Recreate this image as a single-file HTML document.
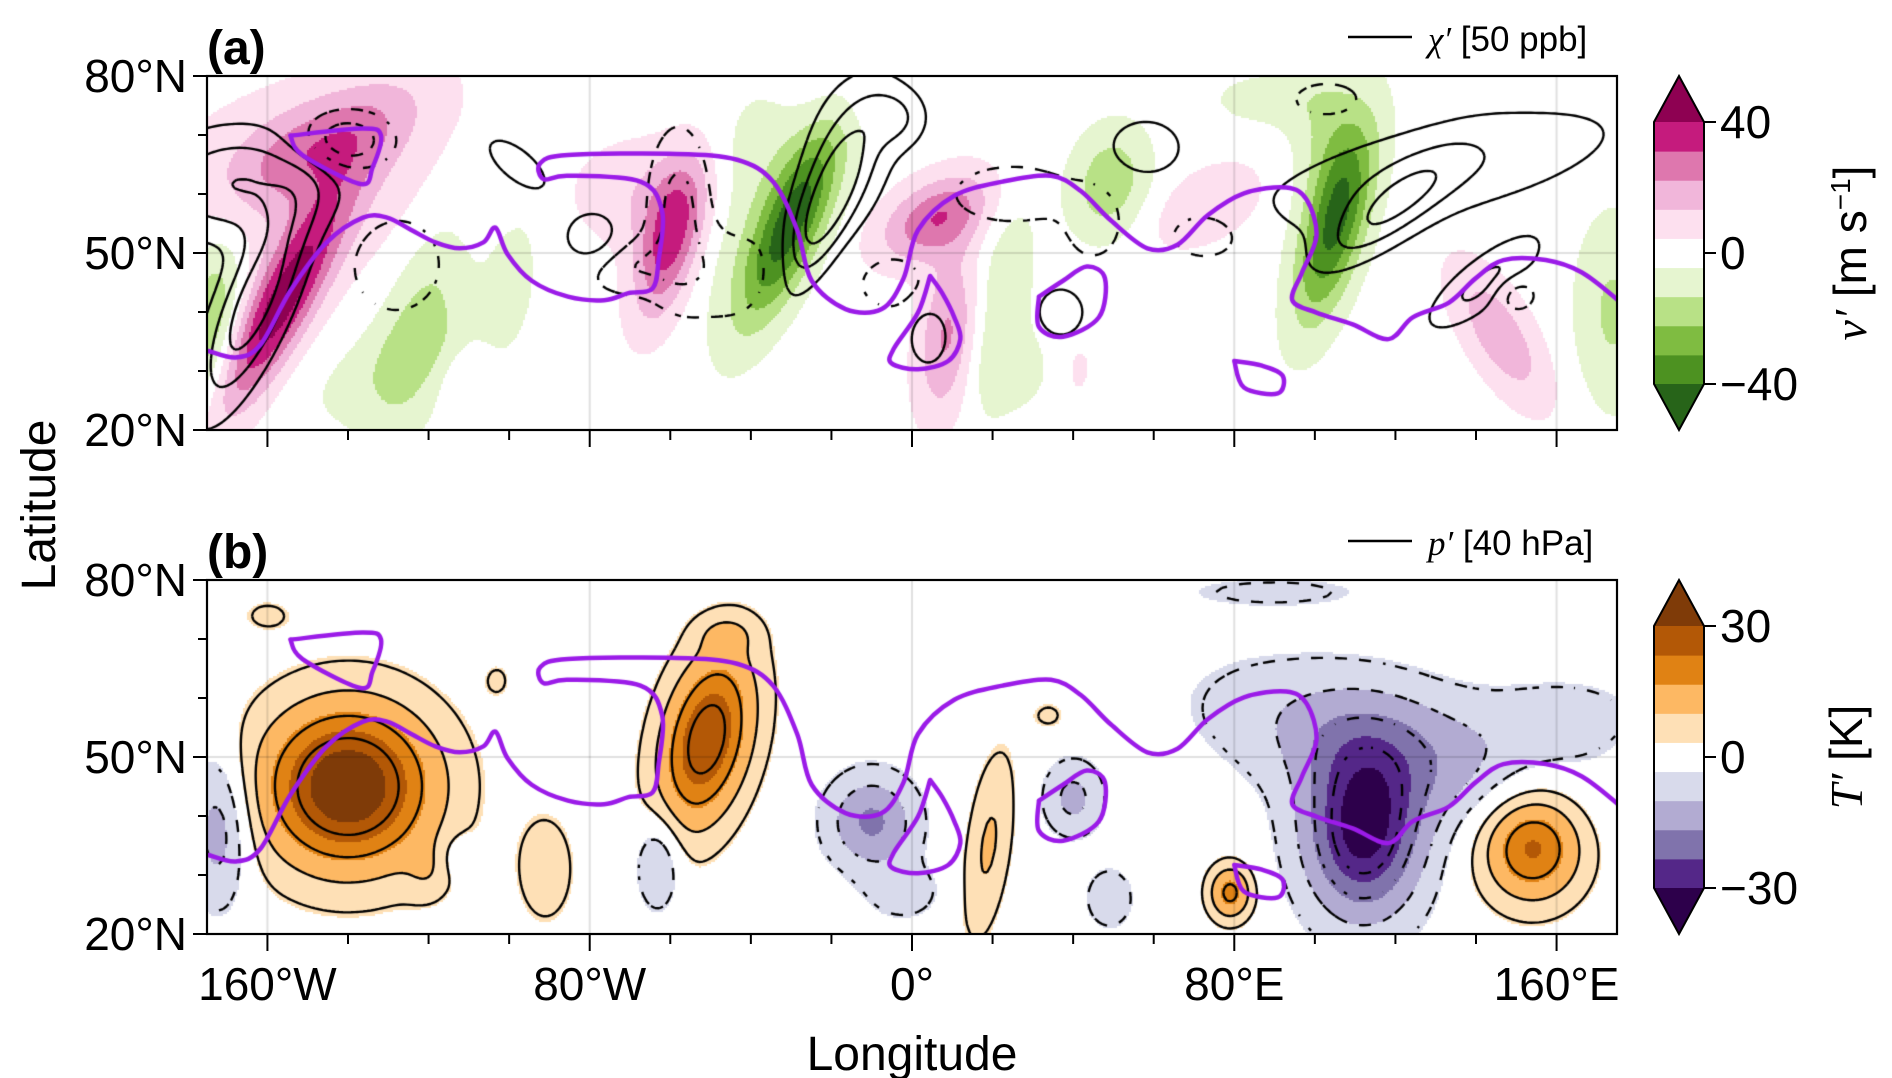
<!DOCTYPE html>
<html><head><meta charset="utf-8">
<style>
html,body{margin:0;padding:0;background:#fff;}
#wrap{position:relative;width:1892px;height:1078px;overflow:hidden;font-family:"Liberation Sans",sans-serif;}
canvas{position:absolute;}
svg{position:absolute;left:0;top:0;}
</style></head>
<body>
<div id="wrap">
<canvas id="cva" width="1410" height="354" style="left:207px;top:76px"></canvas>
<canvas id="cvb" width="1410" height="354" style="left:207px;top:580px"></canvas>
<svg id="ov" width="1892" height="1078"></svg>
</div>
<script>
// ---- data: v' blobs (panel a fill) ----
const vLon  = [-157,-145,-150,-174,-122,-130,-100,-60,-65,-30,-40,6,9,22,28,49,73,105,103,146,174,40,-16,88,-112];
const vLat  = [41,69,62,38,38,30,45,52,60,55,62,56,36,42,30,62,58,55,71,36,40,30,76,76,30];
const vAmp  = [45,22,10,-22,-16,-8,-8,36,12,-42,-10,30,24,-12,-8,-20,12,-42,-12,20,-15,7,6,-8,6];
const vSu   = [14,14,20,10,12,12,10,9,10,12,14,8,9,12,6,6,8,11,8,9,10,5,10,8,5];
const vSv   = [4,5,10,4,5,5,4,4,6,4,8,4,4,4,4,5,4,4,5,4,5,4,4,3,3];
const vTilt = [55,20,0,80,70,20,75,70,0,60,60,20,80,80,0,60,20,70,90,-50,90,80,0,0,30];
// ---- chi' blobs (panel a contours) ----
const cLon  = [-163,-170,-79,-22,-4,58,118,142,37,4,-98,-141,-128,-58,-72,25,45,73,103,150,130,-15,-165,-45,-5];
const cLat  = [42,60,52,57,73,68,57,45,40,36,65,69,48,58,48,60,55,53,76,43,64,68,64,46,45];
const cAmp  = [3.2,1.5,1.6,3,1.4,1.3,2,1.8,1.5,1.5,1.2,-2.5,-1.5,-1.8,-1.4,-1.5,-1.3,-1.3,-1.2,-1.2,1.4,1.2,1.2,-1.2,-0.9];
const cSu   = [12,5,4,10,4,5,10,8,3,2.5,2,6,6,8,6,8,4,6,5,3,25,8,10,10,6];
const cSv   = [4,12,3,3.5,3,3,3,2.5,2.5,3,5,3,5,4,3,3,4,3,2,2,5,6,5,5,4];
const cTilt = [60,90,0,60,0,0,30,30,0,0,60,0,0,90,0,0,0,0,0,0,10,70,0,0,0];
// ---- T' blobs (panel b fill + p' contours) ----
const tLon  = [-140,-51,-91,19,79,154,-160,-103,-46,34,-120,-172,-63,-112,-10,-2,40,49,112,118,90,163];
const tLat  = [45,53,31,35,27,35,74,63,71,57,30,38,32,33,39,27,43,26,37,52,78,57];
const tAmp  = [36,30,8,11,20,26,5,5,6,5,5,-15,-12,-7,-18,-7,-12,-10,-32,-15,-5,-6];
const tSu   = [12,10,4,10,3,7,4,2,4,3,3,4,3,2,6,5,4,3,8,22,15,10];
const tSv   = [9,6,6,3,3,6,2,2,2,2,3,8,5,2,5,3,4,3,9,7,2,4];
const tTilt = [0,70,0,80,0,0,0,0,0,0,0,0,0,0,0,0,0,0,0,-10,0,0];
// ---- tropopause line (purple), lon/lat ----
const lineLon = [-174.7,-167.8,-161.8,-154.3,-145.3,-136.3,-130.3,-124.3,-118.3,-112.3,-106.4,-103.4,-100.4,-94.4,-85.4,-76.4,-70.4,-64.4,-62.9,-62.0,-67.4,-85.4,-91.4,-92.3,-85.4,-58.4,-43.4,-34.5,-28.5,-24.9,-16.5,-7.5,-2.1,1.5,10.5,22.5,34.5,41.9,49.4,58.4,65.9,73.4,82.4,92.9,98.0,100.4,96.8,94.4,100.4,109.4,118.3,124.3,133.3,139.9,146.8,157.3,166.3,175.3];
const lineLat = [33.4,32.3,34.4,43.6,51.8,56.0,56.0,53.9,51.8,50.8,51.8,54.3,49.8,45.3,42.6,42.0,43.2,44.0,48.8,57.0,62.1,63.1,62.5,65.2,66.6,66.8,65.8,62.1,53.9,45.3,40.5,40.5,45.7,53.9,59.7,62.1,63.1,60.5,55.5,50.8,51.4,56.4,60.1,61.1,59.0,52.9,46.7,42.0,39.9,37.9,35.4,39.1,41.6,45.7,48.8,48.8,46.7,42.0];
const loop1Lon = [-154.3,-151.3,-136.9,-133.9,-131.8,-136.3,-154.3];
const loop1Lat = [69.9,66.6,61.7,64.5,69.9,71.1,69.9];
const loop2Lon = [4.5,1.5,-4.5,-5.1,1.5,9.0,12.0,10.5,7.5,4.5];
const loop2Lat = [46.1,39.9,33.8,31.3,30.3,31.7,35.4,39.1,43.2,46.1];
const loop3Lon = [31.5,31.5,37.5,46.4,47.9,43.4,37.5,31.5];
const loop3Lat = [42.6,37.5,35.8,39.1,45.7,47.7,45.3,42.6];
const loop4Lon = [80.0,82.4,90.8,92.0,86.9,80.0];
const loop4Lat = [31.7,27.2,26.2,29.2,30.9,31.7];
// ---- ticks ----
const lonTicks = [-160,-80,0,80,160];
const lonLabels = ["160°W","80°W","0°","80°E","160°E"];
const latTicks = [80,50,20];
const latLabels = ["80°N","50°N","20°N"];
const vBarTicks = [40,0,-40];
const tBarTicks = [30,0,-30];

const LON0=-175, LON1=175, LAT0=20, LAT1=80;
const W=1410, H=354;
const SPREAD=1.3, LATF=1.15;
const PiYG=['#276419','#4d9221','#7fbc41','#b8e186','#e6f5d0','#ffffff','#fde0ef','#f1b6da','#de77ae','#c51b7d','#8e0152'];
const PuOr=['#2d004b','#542788','#8073ac','#b2abd2','#d8daeb','#ffffff','#fee0b6','#fdb863','#e08214','#b35806','#7f3b08'];

function lx(lon){return (lon-LON0)/(LON1-LON0)*W;}
function ly(lat){return (LAT1-lat)/(LAT1-LAT0)*H;}
function field(L,B,A,SU,SV,T,lon,lat){
  let s=0;
  for(let i=0;i<L.length;i++){
    const dx=lon-L[i], dy=(lat-B[i])*LATF, t=T[i]*Math.PI/180;
    const u=dx*Math.cos(t)+dy*Math.sin(t), v=-dx*Math.sin(t)+dy*Math.cos(t);
    const su=SU[i]*SPREAD, sv=SV[i]*SPREAD;
    s+=A[i]*Math.exp(-0.5*(u*u/(su*su)+v*v/(sv*sv)));
  }
  return s;
}
function hex(c){return [parseInt(c.substr(1,2),16),parseInt(c.substr(3,2),16),parseInt(c.substr(5,2),16)];}
function fill(cv,F,vmax,cmap){
  const ctx=cv.getContext('2d');const img=ctx.createImageData(W,H);const cm=cmap.map(hex);
  const step=vmax*2/9;
  for(let py=0;py<H;py+=2){for(let px=0;px<W;px+=2){
    const lon=LON0+(px+1)/W*(LON1-LON0), lat=LAT1-(py+1)/H*(LAT1-LAT0);
    const v=F(lon,lat);let k;
    if(v<-vmax)k=0;else if(v>vmax)k=10;else k=Math.min(9,Math.floor((v+vmax)/step))+1;
    const c=cm[k];
    for(let yy=py;yy<Math.min(H,py+2);yy++)for(let xx=px;xx<Math.min(W,px+2);xx++){
      const o=(yy*W+xx)*4;img.data[o]=c[0];img.data[o+1]=c[1];img.data[o+2]=c[2];img.data[o+3]=255;}
  }}
  ctx.putImageData(img,0,0);
  ctx.strokeStyle='rgba(0,0,0,0.12)';ctx.lineWidth=2;
  lonTicks.forEach(l=>{ctx.beginPath();ctx.moveTo(lx(l),0);ctx.lineTo(lx(l),H);ctx.stroke();});
  ctx.beginPath();ctx.moveTo(0,ly(50));ctx.lineTo(W,ly(50));ctx.stroke();
}
function contours(cv,F,levels){
  const ctx=cv.getContext('2d');const g=4;const nx=Math.ceil(W/g)+1, ny=Math.ceil(H/g)+1;
  const val=[];
  for(let j=0;j<ny;j++){val.push([]);for(let i=0;i<nx;i++){val[j].push(F(LON0+i*g/W*(LON1-LON0),LAT1-j*g/H*(LAT1-LAT0)));}}
  ctx.strokeStyle='#000';ctx.lineWidth=2.4;ctx.lineCap='butt';
  levels.forEach(lv=>{
    ctx.beginPath();
    for(let j=0;j<ny-1;j++)for(let i=0;i<nx-1;i++){
      const a=val[j][i],b=val[j][i+1],c=val[j+1][i+1],d=val[j+1][i];
      const pts=[];
      const ed=(v1,v2,x1,y1,x2,y2)=>{if((v1-lv)*(v2-lv)<0){const t=(lv-v1)/(v2-v1);pts.push([x1+(x2-x1)*t,y1+(y2-y1)*t]);}};
      const X=i*g,Y=j*g;
      ed(a,b,X,Y,X+g,Y);ed(b,c,X+g,Y,X+g,Y+g);ed(c,d,X+g,Y+g,X,Y+g);ed(d,a,X,Y+g,X,Y);
      if(lv<0 && ((Math.floor(X/12)+Math.floor(Y/12))%2)) continue;
      for(let k=0;k+1<pts.length;k+=2){ctx.moveTo(pts[k][0],pts[k][1]);ctx.lineTo(pts[k+1][0],pts[k+1][1]);}
    }
    ctx.stroke();
  });
}
function purple(cv){
  const ctx=cv.getContext('2d');ctx.strokeStyle='#9b1be8';ctx.lineWidth=4.5;ctx.lineJoin='round';ctx.lineCap='round';
  [[lineLon,lineLat],[loop1Lon,loop1Lat],[loop2Lon,loop2Lat],[loop3Lon,loop3Lat],[loop4Lon,loop4Lat]].forEach(([L,B])=>{
    const P=L.map((l,i)=>[lx(l),ly(B[i])]);
    ctx.beginPath();ctx.moveTo(P[0][0],P[0][1]);
    for(let i=0;i<P.length-1;i++){
      const p0=P[Math.max(0,i-1)],p1=P[i],p2=P[i+1],p3=P[Math.min(P.length-1,i+2)];
      ctx.bezierCurveTo(p1[0]+(p2[0]-p0[0])/6,p1[1]+(p2[1]-p0[1])/6,p2[0]-(p3[0]-p1[0])/6,p2[1]-(p3[1]-p1[1])/6,p2[0],p2[1]);
    }
    ctx.stroke();});
}
const Fv=(lo,la)=>field(vLon,vLat,vAmp,vSu,vSv,vTilt,lo,la);
const Fc=(lo,la)=>field(cLon,cLat,cAmp,cSu,cSv,cTilt,lo,la);
const Ft=(lo,la)=>field(tLon,tLat,tAmp,tSu,tSv,tTilt,lo,la);
const ca=document.getElementById('cva'), cb=document.getElementById('cvb');
fill(ca,Fv,40,PiYG);contours(ca,Fc,[-1.5,-0.6,0.6,1.5,2.5]);purple(ca);
fill(cb,Ft,30,PuOr);contours(cb,Ft,[-26,-18,-10,-4,4,10,18,26]);purple(cb);

// ---- SVG overlay ----
const NS='http://www.w3.org/2000/svg';const ov=document.getElementById('ov');
const panels=[{x:207,y:76},{x:207,y:580}];
function el(tag,attrs,parent){const e=document.createElementNS(NS,tag);for(const k in attrs)e.setAttribute(k,attrs[k]);(parent||ov).appendChild(e);return e;}
panels.forEach((p,pi)=>{
  const g=el('g',{});
  
  
  const fr=el('rect',{x:p.x,y:p.y,width:W,height:H,fill:'none',stroke:'#000','stroke-width':2.2},g);
  
  
  for(let lat=20;lat<=80;lat+=10){const y=p.y+ly(lat);const maj=(lat%30===20);
    const t=el('line',{x1:p.x,x2:p.x-(maj?14:9),y1:y,y2:y,stroke:'#000','stroke-width':2},g);
    
    }
  latTicks.forEach((lat,i)=>{const t=el('text',{x:p.x-20,y:p.y+ly(lat)+16,'text-anchor':'end','font-size':46},g);t.textContent=latLabels[i];
    
    });
  for(let lon=-160;lon<=160;lon+=20){const x=p.x+lx(lon);const maj=(lon%80===0);
    const t=el('line',{x1:x,x2:x,y1:p.y+H,y2:p.y+H+(maj?17:10),stroke:'#000','stroke-width':2},g);
    
    }
  if(pi===1){lonTicks.forEach((lon,i)=>{const t=el('text',{x:p.x+lx(lon),y:1000,'text-anchor':'middle','font-size':46},g);t.textContent=lonLabels[i];
    
    });}
  const lab=el('text',{x:207,y:p.y-12,'font-size':48,'font-weight':'bold'},g);lab.textContent=pi?'(b)':'(a)';
  
  
  const lg=el('g',{},g);
  
  
  el('line',{x1:1348,x2:1412,y1:p.y-39,y2:p.y-39,stroke:'#000','stroke-width':2.4},lg);
  const lt=el('text',{x:1428,y:p.y-25,'font-size':35},lg);
  lt.innerHTML=pi?'<tspan font-family="Liberation Serif" font-style="italic">p′</tspan> [40 hPa]':'<tspan font-family="Liberation Serif" font-style="italic">χ′</tspan> [50 ppb]';
  const cmap=pi?PuOr:PiYG;const cg=el('g',{},g);
  
  
  const cx0=1654,cx1=1704,top=p.y+46,bot=p.y+308,bh=(bot-top)/9;
  for(let k=1;k<=9;k++){el('rect',{x:cx0,y:bot-k*bh,width:cx1-cx0,height:bh+0.5,fill:cmap[k]},cg);}
  el('polygon',{points:`${cx0},${top} ${cx1},${top} ${(cx0+cx1)/2},${p.y}`,fill:cmap[10]},cg);
  el('polygon',{points:`${cx0},${bot} ${cx1},${bot} ${(cx0+cx1)/2},${p.y+H}`,fill:cmap[0]},cg);
  el('polygon',{points:`${cx0},${top} ${(cx0+cx1)/2},${p.y} ${cx1},${top} ${cx1},${bot} ${(cx0+cx1)/2},${p.y+H} ${cx0},${bot}`,fill:'none',stroke:'#000','stroke-width':2},cg);
  const ticks=pi?tBarTicks:vBarTicks;const vm=pi?30:40;
  ticks.forEach(v=>{const y=top+(vm-v)/(2*vm)*(bot-top);
    el('line',{x1:cx1,x2:cx1+12,y1:y,y2:y,stroke:'#000','stroke-width':2},cg);
    const t=el('text',{x:cx1+16,y:y+16,'font-size':46},cg);t.textContent=v<0?'−'+(-v):String(v);});
  const cl=el('text',{x:0,y:0,'font-size':46,'text-anchor':'middle',transform:`translate(${pi?1862:1866},${p.y+177}) rotate(-90)`},cg);
  cl.innerHTML=pi?'<tspan font-family="Liberation Serif" font-style="italic">T′</tspan> [K]':'<tspan font-family="Liberation Serif" font-style="italic">v′</tspan> [m s<tspan font-size="28" dy="-16">−1</tspan><tspan dy="16">]</tspan>';
});
const xl=el('text',{x:912,y:1070,'text-anchor':'middle','font-size':48});xl.textContent='Longitude';


const yl=el('text',{x:0,y:0,'text-anchor':'middle','font-size':48,transform:'translate(55,505) rotate(-90)'});yl.textContent='Latitude';


</script>
</body></html>
